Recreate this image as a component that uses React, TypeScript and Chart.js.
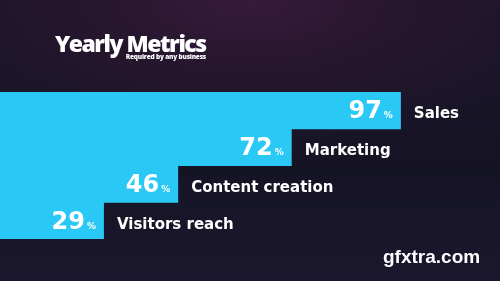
import React, { useEffect, useRef } from "react";
import { Chart, registerables } from "chart.js";

Chart.register(...registerables);

const categories = ["Sales", "Marketing", "Content creation", "Visitors reach"];
const values = [97, 72, 46, 29];
const titleText = "Yearly Metrics";
const subtitleText = "Required by any business";
const watermarkText = "gfxtra.com";

const BAR_COLOR = "#2ac8f4";

const labelsPlugin = {
  id: "stepLabels",
  afterDatasetsDraw(chart: any) {
    const ctx = chart.ctx as CanvasRenderingContext2D;
    const meta = chart.getDatasetMeta(0);
    ctx.save();
    ctx.fillStyle = "#ffffff";
    ctx.textBaseline = "alphabetic";
    meta.data.forEach((bar: any, i: number) => {
      const { x, y } = bar.getProps(["x", "y"], true);
      const end = Math.min(x, chart.chartArea.right);
      ctx.font = 'bold 9px "DejaVu Sans"';
      ctx.textAlign = "right";
      (ctx as any).letterSpacing = "0px";
      const pctRight = end - 8;
      const pctW = ctx.measureText("%").width;
      ctx.fillText("%", pctRight, y + 8);
      ctx.font = 'bold 24px "DejaVu Sans"';
      ctx.fillText(String(values[i]), pctRight - pctW - 2, y + 8);
      ctx.font = 'bold 15px "DejaVu Sans"';
      ctx.textAlign = "left";
      ctx.fillText(categories[i], end + 13, y + 8);
    });
    ctx.textAlign = "left";
    ctx.font = '800 23px "Open Sans"';
    (ctx as any).letterSpacing = "-1.5px";
    ctx.fillText(titleText, 55, 52);
    ctx.font = '800 6.5px "Open Sans"';
    (ctx as any).letterSpacing = "-0.2px";
    ctx.textAlign = "right";
    ctx.fillText(subtitleText, 206, 59);
    ctx.font = 'bold 19px "Liberation Sans"';
    (ctx as any).letterSpacing = "0px";
    ctx.textAlign = "left";
    ctx.fillText(watermarkText, 383, 263);
    ctx.restore();
  },
};

export default function App() {
  const ref = useRef<HTMLCanvasElement | null>(null);
  useEffect(() => {
    if (!ref.current) return;
    const chart = new Chart(ref.current, {
      type: "bar",
      data: {
        labels: categories,
        datasets: [
          {
            data: values,
            backgroundColor: BAR_COLOR,
            borderWidth: 0,
            barPercentage: 1.03,
            categoryPercentage: 1,
          },
        ],
      },
      options: {
        indexAxis: "y",
        animation: false,
        responsive: false,
        events: [],
        layout: { padding: { top: 92, bottom: 42, left: 0, right: 0 } },
        plugins: {
          legend: { display: false },
          tooltip: { enabled: false },
          title: { display: false },
        },
        scales: {
          x: { display: false, min: 5.2, max: 119.7 },
          y: { display: false },
        },
      },
      plugins: [labelsPlugin],
    });
    return () => chart.destroy();
  }, []);
  return (
    <div
      style={{
        position: "absolute",
        left: 0,
        top: 0,
        width: 500,
        height: 281,
        overflow: "hidden",
        background:
          "radial-gradient(ellipse 70% 55% at 50% 0%, #381a3c 0%, #26162e 45%, rgba(21,20,37,0) 100%), linear-gradient(180deg, #1a1528 0%, #151425 60%, #1b172e 100%)",
      }}
    >
      <canvas ref={ref} width={500} height={281} style={{ display: "block" }} />
    </div>
  );
}
